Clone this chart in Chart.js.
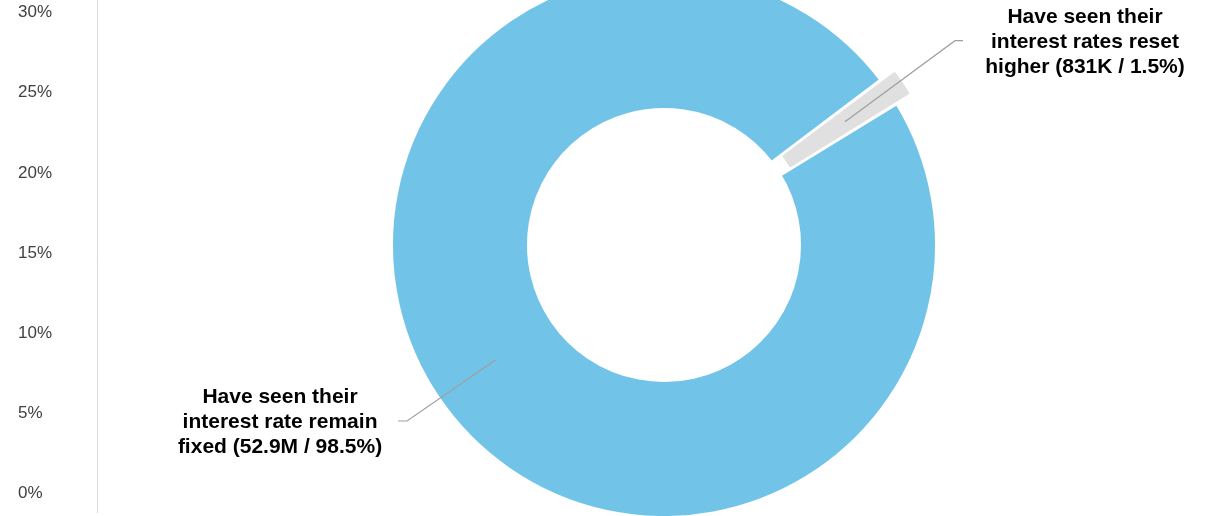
<!DOCTYPE html>
<html>
<head>
<meta charset="utf-8">
<script src="https://cdn.jsdelivr.net/npm/chart.js@4"></script>
<style>
html,body{margin:0;padding:0;background:#ffffff;overflow:hidden}
#wrap{position:relative;width:1209px;height:516px}
#wrap canvas{position:absolute;left:0;top:0}
</style>
</head>
<body>
<div id="wrap">
<canvas id="axis" width="1209" height="516"></canvas>
<canvas id="pie" width="1209" height="516"></canvas>
</div>
<script>
// ---- data ----
const categories = ['Fixed rate', 'Reset higher'];
const borrowersMillions = [52.9, 0.831];
const calloutLines = [
  ['Have seen their', 'interest rate remain', 'fixed (52.9M / 98.5%)'],
  ['Have seen their', 'interest rates reset', 'higher (831K / 1.5%)']
];
const yTickValues = [0, 5, 10, 15, 20, 25, 30];

// ---- styles / layout ----
const sliceColors = ['#71C4E8', '#E0E0E0'];
const sliceBorderColors = ['#FFFFFF', '#E0E0E0'];
const sliceBorderWidths = [5.3, 1.5];
const sliceOffsets = [0, 30];
const calloutLayout = [
  {textX: 280, textY: 422, elbowX: 407, elbowY: 421, endX: 398},
  {textX: 1085, textY: 42.5, elbowX: 955, elbowY: 40.7, endX: 963}
];
const FONT = '"Liberation Sans", Arial, Helvetica, sans-serif';

// ---- axis chart (left percentage scale) ----
new Chart(document.getElementById('axis'), {
  type: 'line',
  data: { labels: categories, datasets: [] },
  options: {
    responsive: false,
    devicePixelRatio: 1,
    animation: false,
    layout: { padding: { left: 18, top: 0, bottom: 4, right: 0 } },
    plugins: { legend: { display: false }, tooltip: { enabled: false } },
    scales: {
      x: { display: false },
      y: {
        min: -1.154,
        max: 30.78,
        afterBuildTicks: (s) => { s.ticks = yTickValues.map(v => ({ value: v })); },
        afterFit: (s) => { s.width = 79; s.paddingTop = 0; s.paddingBottom = 0; },
        grid: { display: false, drawTicks: false },
        border: { display: true, color: '#D9D9D9', width: 1 },
        ticks: {
          crossAlign: 'far',
          padding: 0,
          color: '#404040',
          font: { family: FONT, size: 17 },
          callback: (v) => v + '%'
        }
      }
    }
  }
});

// ---- callout plugin ----
const calloutPlugin = {
  id: 'callouts',
  afterDatasetsDraw(chart) {
    const ctx = chart.ctx;
    const meta = chart.getDatasetMeta(0);
    ctx.save();
    meta.data.forEach((arc, i) => {
      const c = arc.getCenterPoint();
      const L = calloutLayout[i];
      ctx.beginPath();
      ctx.strokeStyle = '#9F9F9F';
      ctx.lineWidth = 1.2;
      ctx.moveTo(c.x, c.y);
      ctx.lineTo(L.elbowX, L.elbowY);
      ctx.lineTo(L.endX, L.elbowY);
      ctx.stroke();
      ctx.fillStyle = '#000000';
      ctx.font = 'bold 21px ' + FONT;
      ctx.textAlign = 'center';
      ctx.textBaseline = 'middle';
      const lh = 25;
      const lines = calloutLines[i];
      lines.forEach((t, k) => {
        ctx.fillText(t, L.textX, L.textY + (k - (lines.length - 1) / 2) * lh);
      });
    });
    ctx.restore();
  }
};

// ---- doughnut ----
new Chart(document.getElementById('pie'), {
  type: 'doughnut',
  data: {
    labels: categories,
    datasets: [{
      data: borrowersMillions,
      backgroundColor: sliceColors,
      borderColor: sliceBorderColors,
      borderWidth: sliceBorderWidths,
      offset: sliceOffsets,
      clip: false
    }]
  },
  options: {
    responsive: false,
    devicePixelRatio: 1,
    animation: false,
    radius: 273.65,
    cutout: '49.1%',
    rotation: 58.51,
    layout: { padding: { left: 119, right: 0, top: 0, bottom: 26 } },
    plugins: { legend: { display: false }, tooltip: { enabled: false } },
    events: []
  },
  plugins: [calloutPlugin]
});
</script>
</body>
</html>
